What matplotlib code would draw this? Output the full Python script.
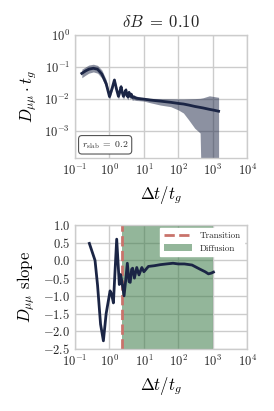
import matplotlib
matplotlib.use("Agg")
import matplotlib.pyplot as plt
import numpy as np

# ----------------------------
# Data
# ----------------------------
# top panel: D_mumu * t_g vs dt/t_g, with spread band
dt_top = [0.157, 0.2, 0.25, 0.34, 0.45, 0.6, 0.8, 1.0, 1.2, 1.39,
          1.6, 1.82, 2.0, 2.17, 2.35, 2.54, 2.75, 3.0, 3.2, 3.45,
          3.7, 4.0, 4.3, 4.6, 5.0, 6, 8, 10, 15, 30,
          60, 100, 141, 200, 300, 430, 520, 800, 1100, 1480]
dmm = [0.063, 0.075, 0.085, 0.091, 0.085, 0.06, 0.03, 0.0118, 0.022, 0.039,
       0.02, 0.012, 0.017, 0.024, 0.016, 0.012, 0.015, 0.019, 0.013, 0.0115,
       0.016, 0.012, 0.014, 0.011, 0.0115, 0.0105, 0.0100, 0.0098, 0.0092, 0.0085,
       0.0078, 0.0072, 0.0069, 0.0064, 0.0058, 0.0054, 0.0052, 0.0047, 0.0044, 0.0041]
dmm_hi = [0.085, 0.1, 0.115, 0.122, 0.112, 0.08, 0.04, 0.0145, 0.027, 0.046,
          0.025, 0.0148, 0.021, 0.029, 0.02, 0.0148, 0.0185, 0.023, 0.016, 0.014,
          0.019, 0.0145, 0.0165, 0.0132, 0.0135, 0.0122, 0.0114, 0.0110, 0.0104, 0.0102,
          0.0101, 0.0100, 0.0100, 0.0101, 0.0102, 0.0104, 0.0108, 0.0125, 0.0118, 0.0112]
dmm_lo = [0.046, 0.055, 0.064, 0.07, 0.064, 0.045, 0.022, 0.0095, 0.018, 0.032,
          0.016, 0.0097, 0.0137, 0.019, 0.0128, 0.0097, 0.012, 0.0155, 0.0105, 0.0093,
          0.013, 0.0097, 0.0115, 0.0089, 0.0093, 0.0089, 0.0087, 0.0085, 0.0076, 0.0064,
          0.0057, 0.0045, 0.0036, 0.0022, 0.0012, 0.00085, 1e-7, 1e-7, 1e-7, 1e-7]

# bottom panel: local slope
dt_slope = [0.26, 0.38, 0.45, 0.55, 0.665, 0.8, 1.04, 1.15, 1.3, 1.45,
            1.62, 1.93, 2.1, 2.3, 2.65, 3.0, 3.3, 3.7, 4.0, 4.4,
            4.7, 5.3, 6.2, 7.2, 8.7, 10, 13.5, 20, 30, 45,
            70, 100, 150, 250, 430, 600, 750, 900, 1050]
slope = [0.48, 0.0, -0.7, -1.8, -2.27, -1.5, -0.86, -0.95, -1.2, -0.3,
         0.6, -0.68, -0.4, -0.6, -1.0, -0.5, -0.08, -0.6, -0.62, -0.25,
         -0.22, -0.5, -0.2, -0.41, -0.2, -0.32, -0.17, -0.15, -0.12, -0.1,
         -0.08, -0.1, -0.1, -0.13, -0.25, -0.32, -0.38, -0.36, -0.33]

t_transition = 2.27
t_diff_end = 1000
r_slab = 0.2
delta_b = 0.10

# ----------------------------
# Style
# ----------------------------
plt.rcParams.update({
    "font.family": "serif",
    "font.serif": ["cmr10"],
    "mathtext.fontset": "cm",
    "axes.formatter.use_mathtext": True,
    "axes.unicode_minus": False,
    "axes.edgecolor": "#cccccc",
    "axes.linewidth": 1.0,
    "grid.color": "#cccccc",
    "grid.linewidth": 1.0,
    "axes.axisbelow": True,
    "xtick.major.size": 0,
    "ytick.major.size": 0,
    "xtick.minor.size": 0,
    "ytick.minor.size": 0,
    "xtick.labelsize": 9,
    "ytick.labelsize": 9,
    "text.color": "#262626",
    "xtick.color": "#262626",
    "ytick.color": "#262626",
})

navy = "#1b2545"

fig = plt.figure(figsize=(2.74, 4.11), dpi=100)

# ----------------------------
# Top panel
# ----------------------------
ax1 = fig.add_axes([0.274, 0.6156, 0.628, 0.299])
ax1.fill_between(dt_top, dmm_lo, dmm_hi, color=navy, alpha=0.5, linewidth=0)
ax1.plot(dt_top, dmm, color=navy, linewidth=2)
ax1.set_xscale("log")
ax1.set_yscale("log")
ax1.set_xlim(1e-1, 1e4)
ax1.set_ylim(1.4e-4, 1)
ax1.set_xticks([1e-1, 1e0, 1e1, 1e2, 1e3, 1e4])
ax1.set_yticks([1e-3, 1e-2, 1e-1, 1e0])
ax1.minorticks_off()
ax1.grid(True)
ax1.set_title(r"$\delta B\;=\;%.2f$" % delta_b, fontsize=12)
ax1.set_xlabel(r"$\Delta t / t_g$", fontsize=12)
ax1.set_ylabel(r"$D_{\mu\mu} \cdot t_g$", fontsize=12)
ax1.text(0.04, 0.06, r"$r_{\rm slab}\;=\;%.1f$" % r_slab, transform=ax1.transAxes,
         fontsize=7, ha="left", va="bottom",
         bbox=dict(boxstyle="round,pad=0.35", facecolor="white", edgecolor="#555555", linewidth=0.8))

# ----------------------------
# Bottom panel
# ----------------------------
ax2 = fig.add_axes([0.274, 0.1509, 0.628, 0.3017])
ax2.axvspan(t_transition, t_diff_end, color="#3b7a47", alpha=0.55, linewidth=0, label="Diffusion")
ax2.axvline(t_transition, color="#c9736b", linestyle="--", linewidth=2, label="Transition")
ax2.plot(dt_slope, slope, color=navy, linewidth=2)
ax2.set_xscale("log")
ax2.set_xlim(1e-1, 1e4)
ax2.set_ylim(-2.5, 1.0)
ax2.set_xticks([1e-1, 1e0, 1e1, 1e2, 1e3, 1e4])
ax2.set_yticks(np.arange(-2.5, 1.01, 0.5))
ax2.minorticks_off()
ax2.grid(True)
ax2.set_xlabel(r"$\Delta t / t_g$", fontsize=12)
ax2.set_ylabel(r"$D_{\mu\mu}$ slope", fontsize=12)
handles, labels = ax2.get_legend_handles_labels()
ax2.legend(handles[::-1], labels[::-1], loc="upper right", fontsize=6.5,
           frameon=True, framealpha=1.0, edgecolor="white", fancybox=False,
           handlelength=3.2, borderaxespad=0.3)

plt.savefig("out.png", dpi=100)
